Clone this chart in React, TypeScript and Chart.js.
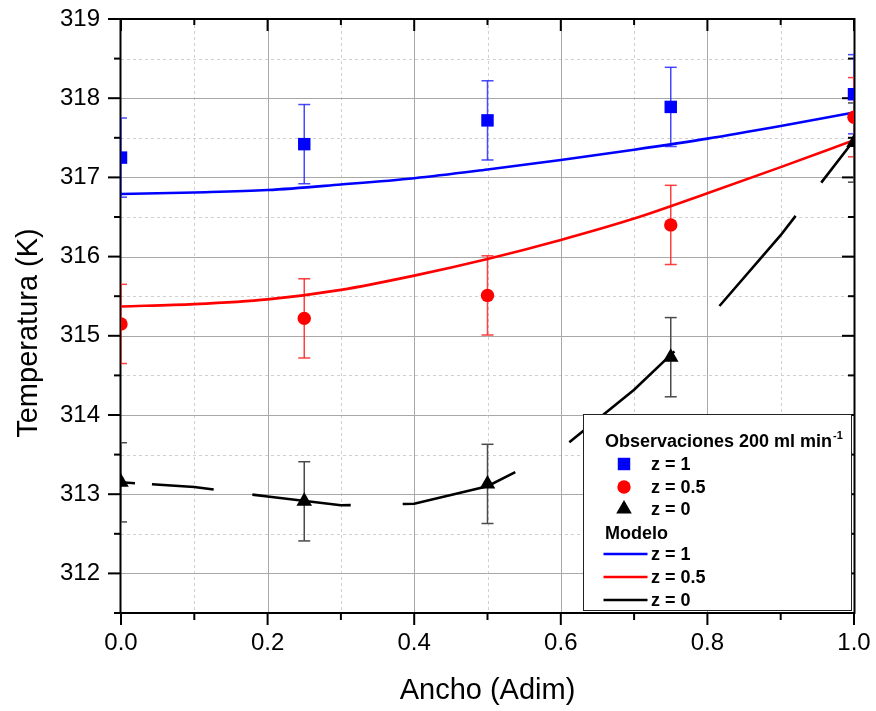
import React, { useEffect, useRef } from "react";
import { Chart, registerables } from "chart.js";

Chart.register(...registerables);

// ---------------- data ----------------
const obsX = [0, 0.25, 0.5, 0.75, 1.0];
const obsZ1 = [317.25, 317.42, 317.72, 317.89, 318.05];
const obsZ05 = [315.15, 315.22, 315.51, 316.4, 317.76];
const obsZ0 = [313.15, 312.91, 313.13, 314.73, 317.44];
const errZ1 = [0.5, 0.5, 0.5, 0.5, 0.5];
const errZ05 = [0.5, 0.5, 0.5, 0.5, 0.5];
const errZ0 = [0.5, 0.5, 0.5, 0.5, 0.5];

const modelX = [0, 0.1, 0.2, 0.3, 0.4, 0.5, 0.6, 0.7, 0.8, 0.9, 1.0];
const modelZ1 = [316.79, 316.81, 316.84, 316.91, 316.99, 317.1, 317.22, 317.35, 317.49, 317.65, 317.82];
const modelZ05 = [315.37, 315.4, 315.46, 315.58, 315.76, 315.97, 316.21, 316.48, 316.8, 317.13, 317.47];
const modelZ0 = [313.15, 313.09, 312.97, 312.86, 312.88, 313.1, 313.57, 314.32, 315.2, 316.27, 317.47];

const xMajorTicks = [0, 0.2, 0.4, 0.6, 0.8, 1.0];
const xMinorTicks = [0.1, 0.3, 0.5, 0.7, 0.9];
const yMajorTicks = [312, 313, 314, 315, 316, 317, 318, 319];
const yMinorTicks = [311.5, 312.5, 313.5, 314.5, 315.5, 316.5, 317.5, 318.5];

const xTitle = "Ancho (Adim)";
const yTitle = "Temperatura (K)";
const legendObsTitle = "Observaciones 200 ml min";
const legendObsSup = "-1";
const legendModelTitle = "Modelo";
const seriesLabels = ["z = 1", "z = 0.5", "z = 0"];

// ---------------- styles ----------------
const FONT = "'Liberation Sans', Arial, Helvetica, sans-serif";
const BLUE = "#0000ff";
const RED = "#ff0000";
const BLACK = "#000000";
const blackDash = [14, 17, 62, 39, 99, 52, 118, 62, 139, 64, 118, 42, 400, 10];

const toPts = (xs: number[], ys: number[]) => xs.map((x, i) => ({ x, y: ys[i] }));

function drawMarker(ctx: CanvasRenderingContext2D, style: string, x: number, y: number, r: number, color: string) {
  ctx.save();
  ctx.fillStyle = color;
  ctx.beginPath();
  if (style === "rect") {
    const s = Math.SQRT1_2 * r;
    ctx.rect(x - s, y - s, 2 * s, 2 * s);
  } else if (style === "circle") {
    ctx.arc(x, y, r, 0, Math.PI * 2);
  } else if (style === "triangle") {
    ctx.moveTo(x, y - r);
    ctx.lineTo(x + Math.sin((2 * Math.PI) / 3) * r, y + r / 2);
    ctx.lineTo(x - Math.sin((2 * Math.PI) / 3) * r, y + r / 2);
    ctx.closePath();
  }
  ctx.fill();
  ctx.restore();
}

const decorPlugin = {
  id: "decor",
  beforeDatasetsDraw(chart: any) {
    const { ctx, chartArea: a, scales } = chart;
    const xs = scales.x;
    const ys = scales.y;
    const line = (x1: number, y1: number, x2: number, y2: number) => {
      ctx.beginPath();
      ctx.moveTo(x1, y1);
      ctx.lineTo(x2, y2);
      ctx.stroke();
    };
    ctx.save();
    // minor grid
    ctx.lineWidth = 1;
    ctx.strokeStyle = "#d0d0d0";
    ctx.setLineDash([3, 3]);
    xMinorTicks.forEach((v) => {
      const p = Math.round(xs.getPixelForValue(v)) + 0.5;
      line(p, a.top, p, a.bottom);
    });
    yMinorTicks.forEach((v) => {
      const p = Math.round(ys.getPixelForValue(v)) + 0.5;
      if (p > a.top + 2 && p < a.bottom - 2) line(a.left, p, a.right, p);
    });
    // major grid
    ctx.setLineDash([]);
    ctx.strokeStyle = "#a8a8a8";
    xMajorTicks.forEach((v) => {
      const p = Math.round(xs.getPixelForValue(v)) + 0.5;
      if (p > a.left + 2 && p < a.right - 2) line(p, a.top, p, a.bottom);
    });
    yMajorTicks.forEach((v) => {
      const p = Math.round(ys.getPixelForValue(v)) + 0.5;
      if (p > a.top + 2 && p < a.bottom - 2) line(a.left, p, a.right, p);
    });
    // frame
    ctx.strokeStyle = "#000";
    ctx.lineWidth = 2;
    ctx.strokeRect(a.left - 0.5, a.top, a.right - a.left + 1, a.bottom - a.top);
    // ticks
    const maj = 12;
    const min = 6;
    xMajorTicks.forEach((v) => {
      const p = xs.getPixelForValue(v);
      line(p, a.bottom, p, a.bottom + maj);
      line(p, a.top, p, a.top + maj);
    });
    xMinorTicks.forEach((v) => {
      const p = xs.getPixelForValue(v);
      line(p, a.bottom, p, a.bottom + min + 1);
      line(p, a.top, p, a.top + min);
    });
    yMajorTicks.forEach((v) => {
      const p = ys.getPixelForValue(v);
      line(a.left, p, a.left - maj - 1, p);
      line(a.right, p, a.right - maj, p);
    });
    yMinorTicks.forEach((v) => {
      const p = ys.getPixelForValue(v);
      line(a.left, p, a.left - min - 1, p);
      line(a.right, p, a.right - min, p);
    });
    // error bars
    ctx.beginPath();
    ctx.rect(a.left, a.top, a.right - a.left, a.bottom - a.top);
    ctx.clip();
    chart.data.datasets.forEach((ds: any) => {
      if (!ds.errors) return;
      ctx.strokeStyle = ds.errorColor;
      ctx.lineWidth = 1.5;
      ds.data.forEach((pt: any, j: number) => {
        const px = xs.getPixelForValue(pt.x);
        const top = ys.getPixelForValue(pt.y + ds.errors[j]);
        const bot = ys.getPixelForValue(pt.y - ds.errors[j]);
        line(px, top, px, bot);
        line(px - 6, top, px + 6, top);
        line(px - 6, bot, px + 6, bot);
      });
    });
    ctx.restore();
  },
  afterDraw(chart: any) {
    const { ctx, chartArea: a, data } = chart;
    ctx.save();
    // axis titles
    ctx.fillStyle = "#000";
    ctx.font = `29px ${FONT}`;
    ctx.textAlign = "center";
    ctx.textBaseline = "alphabetic";
    ctx.fillText(xTitle, (a.left + a.right) / 2, 699);
    ctx.save();
    ctx.translate(37, 333);
    ctx.rotate(-Math.PI / 2);
    ctx.fillText(yTitle, 0, 0);
    ctx.restore();

    // legend box
    const bx = a.right - 270.5;
    const by = 414.5;
    const bw = 268;
    const bh = 196;
    ctx.fillStyle = "#fff";
    ctx.fillRect(bx, by, bw, bh);
    ctx.strokeStyle = "#222";
    ctx.lineWidth = 1;
    ctx.strokeRect(bx, by, bw, bh);

    const tx = bx + 21.5;
    const mx = bx + 40.5;
    const lx = bx + 67.5;
    const rowY = [440, 464, 487, 509, 532, 554, 577, 600];
    ctx.fillStyle = "#000";
    ctx.textAlign = "left";
    ctx.textBaseline = "alphabetic";
    ctx.font = `bold 18px ${FONT}`;
    ctx.fillText(legendObsTitle, tx, rowY[0] + 6.5);
    const w = ctx.measureText(legendObsTitle).width;
    ctx.font = `bold 11px ${FONT}`;
    ctx.fillText(legendObsSup, tx + w + 1, rowY[0] - 1);
    ctx.font = `bold 18px ${FONT}`;
    ctx.fillText(legendModelTitle, tx, rowY[4] + 6.5);

    ctx.textBaseline = "middle";
    for (let i = 0; i < 3; i++) {
      const ds = data.datasets[i];
      drawMarker(ctx, ds.pointStyle, mx, rowY[1 + i], ds.pointRadius, ds.backgroundColor);
      ctx.fillStyle = "#000";
      ctx.fillText(ds.label, lx, rowY[1 + i] + 1);
    }
    for (let i = 0; i < 3; i++) {
      const ds = data.datasets[3 + i];
      const yy = rowY[5 + i];
      ctx.strokeStyle = ds.borderColor;
      ctx.lineWidth = 2.5;
      ctx.beginPath();
      ctx.moveTo(bx + 20, yy);
      ctx.lineTo(bx + 64, yy);
      ctx.stroke();
      ctx.fillStyle = "#000";
      ctx.fillText(ds.label, lx, yy + 1);
    }
    ctx.restore();
  },
};

export default function App() {
  const ref = useRef<HTMLCanvasElement | null>(null);
  useEffect(() => {
    document.body.style.margin = "0";
    const canvas = ref.current;
    if (!canvas) return;
    const obs = (label: string, ys: number[], errs: number[], style: string, r: number, color: string, errColor: string) => ({
      label,
      data: toPts(obsX, ys),
      showLine: false,
      pointStyle: style,
      pointRadius: r,
      pointHoverRadius: r,
      backgroundColor: color,
      borderColor: color,
      pointBorderWidth: 0,
      errors: errs,
      errorColor: errColor,
      clip: 0,
    });
    const model = (label: string, ys: number[], color: string, dash: number[] | undefined) => ({
      label,
      data: toPts(modelX, ys),
      showLine: true,
      pointRadius: 0,
      pointHoverRadius: 0,
      borderColor: color,
      backgroundColor: color,
      borderWidth: 2.6,
      borderDash: dash || [],
      borderCapStyle: "butt",
      tension: dash ? 0 : 0.4,
      cubicInterpolationMode: dash ? "default" : "monotone",
      fill: false,
      clip: 0,
    });
    const chart = new Chart(canvas, {
      type: "scatter",
      data: {
        datasets: [
          obs(seriesLabels[0], obsZ1, errZ1, "rect", 8.8, BLUE, "rgba(40,40,255,0.85)"),
          obs(seriesLabels[1], obsZ05, errZ05, "circle", 6.7, RED, "rgba(255,30,30,0.85)"),
          obs(seriesLabels[2], obsZ0, errZ0, "triangle", 9, BLACK, "#4a4a4a"),
          model(seriesLabels[0], modelZ1, BLUE, undefined),
          model(seriesLabels[1], modelZ05, RED, undefined),
          model(seriesLabels[2], modelZ0, BLACK, blackDash),
        ] as any,
      },
      options: {
        responsive: false,
        animation: false,
        events: [],
        layout: { padding: { top: 19, right: 22, left: 0, bottom: 0 } },
        plugins: { legend: { display: false }, tooltip: { enabled: false } },
        scales: {
          x: {
            type: "linear",
            min: 0,
            max: 1,
            grid: { display: false, drawTicks: false },
            border: { display: false },
            afterFit: (s: any) => {
              s.height = 98;
              s.paddingLeft = 0;
              s.paddingRight = 0;
            },
            ticks: {
              stepSize: 0.2,
              autoSkip: false,
              maxRotation: 0,
              padding: 16,
              color: "#000",
              font: { family: FONT, size: 24 },
              callback: (v: any) => Number(v).toFixed(1),
            },
          },
          y: {
            type: "linear",
            min: 311.5,
            max: 319,
            grid: { display: false, drawTicks: false },
            border: { display: false },
            afterFit: (s: any) => {
              s.width = 121;
              s.paddingTop = 0;
              s.paddingBottom = 0;
            },
            ticks: {
              stepSize: 1,
              includeBounds: false,
              autoSkip: false,
              padding: 21,
              color: "#000",
              font: { family: FONT, size: 24 },
              callback: (v: any) => (Number.isInteger(Number(v)) ? String(v) : ""),
            },
          },
        },
      } as any,
      plugins: [decorPlugin as any],
    });
    return () => chart.destroy();
  }, []);
  return (
    <div style={{ position: "fixed", left: 0, top: 0, width: 876, height: 711, background: "#fff" }}>
      <canvas ref={ref} width={876} height={711} style={{ display: "block" }} />
    </div>
  );
}
